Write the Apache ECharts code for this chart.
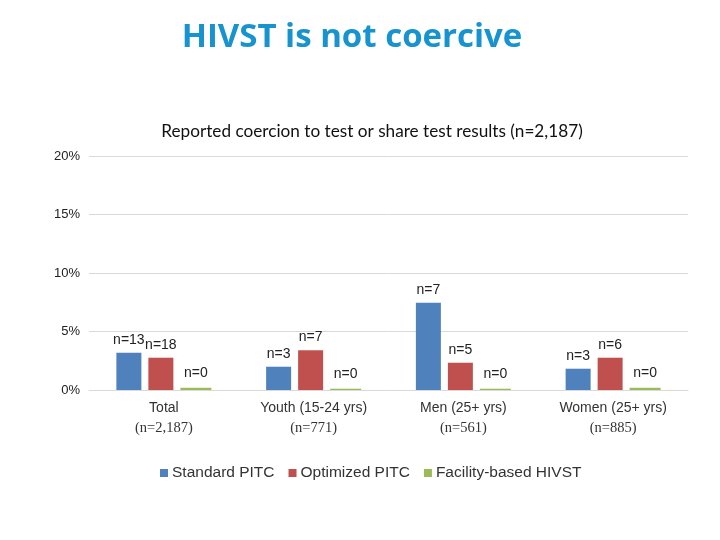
<!DOCTYPE html>
<html><head><meta charset="utf-8">
<script src="https://cdn.jsdelivr.net/npm/echarts@6/dist/echarts.min.js"></script>
<style>html,body{margin:0;padding:0;background:#fff}#c{width:720px;height:540px}</style>
</head><body><div id="c"></div>
<script>
const categories = ['Total', 'Youth (15-24 yrs)', 'Men (25+ yrs)', 'Women (25+ yrs)'];
const categoryN = ['(n=2,187)', '(n=771)', '(n=561)', '(n=885)'];
const seriesNames = ['Standard PITC', 'Optimized PITC', 'Facility-based HIVST'];
const standardPITC = [3.19, 1.99, 7.46, 1.82];
const optimizedPITC = [2.76, 3.39, 2.33, 2.76];
const facilityHIVST = [0.19, 0.11, 0.11, 0.19];
const standardLabels = ['n=13', 'n=3', 'n=7', 'n=3'];
const optimizedLabels = ['n=18', 'n=7', 'n=5', 'n=6'];
const facilityLabels = ['n=0', 'n=0', 'n=0', 'n=0'];
const yTicks = [0, 5, 10, 15, 20];

const colors = ['#4f81bd', '#c0504d', '#9bbb59'];
const chart = echarts.init(document.getElementById('c'));

function mkSeries(name, values, labels, color, width, dist) {
  return {
    name: name, type: 'bar', barWidth: width, barGap: '28%',
    data: values,
    itemStyle: { color: color },
    label: {
      show: true, position: 'top', distance: dist,
      formatter: p => labels[p.dataIndex],
      fontFamily: 'Liberation Sans', fontSize: 14, color: '#222'
    }
  };
}

chart.setOption({
  animation: false,
  title: [
    { text: 'HIVST is not coercive', left: 347, top: 16, textAlign: 'center',
      textStyle: { fontFamily: 'Open Sans', fontWeight: 'bold', fontSize: 33, color: '#1793cf' } },
    { text: 'Reported coercion to test or share test results (n=2,187)', left: 367, top: 118, textAlign: 'center',
      textStyle: { fontFamily: 'Lato', fontWeight: 'normal', fontSize: 17.2, color: '#111' } }
  ],
  legend: {
    data: seriesNames, bottom: 54, left: 155,
    itemWidth: 8, itemHeight: 8, itemGap: 14, icon: 'rect',
    textStyle: { fontFamily: 'Liberation Sans', fontSize: 15.5, color: '#333', padding: [0, 0, 0, -1] }
  },
  grid: { left: 89, right: 32, top: 156, bottom: 150 },
  xAxis: {
    type: 'category', data: categories,
    axisLine: { show: true, lineStyle: { color: '#d9d9d9', width: 1 } },
    axisTick: { show: false },
    axisLabel: {
      margin: 8,
      formatter: (v, i) => '{a|' + v + '}\n{b|' + categoryN[i] + '}',
      rich: {
        a: { fontFamily: 'Liberation Sans', fontSize: 14, color: '#333', lineHeight: 20 },
        b: { fontFamily: 'Liberation Serif', fontSize: 14.5, color: '#333', lineHeight: 20 }
      }
    }
  },
  yAxis: {
    type: 'value', min: yTicks[0], max: yTicks[yTicks.length - 1], interval: 5,
    axisLine: { show: false }, axisTick: { show: false },
    splitLine: { lineStyle: { color: '#d9d9d9', width: 1 } },
    axisLabel: { formatter: v => v + '%', fontFamily: 'Liberation Sans', fontSize: 13, color: '#222', margin: 9 }
  },
  series: [
    mkSeries(seriesNames[0], standardPITC, standardLabels, colors[0], 25, 6),
    mkSeries(seriesNames[1], optimizedPITC, optimizedLabels, colors[1], 25, 6),
    mkSeries(seriesNames[2], facilityHIVST, facilityLabels, colors[2], 31, 8)
  ]
});
</script></body></html>
